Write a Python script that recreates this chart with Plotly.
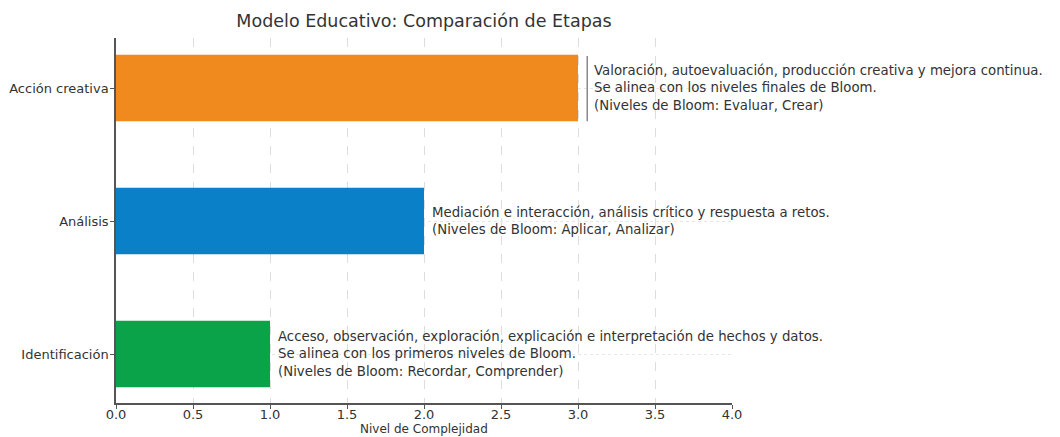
import plotly.graph_objects as go

categories = ["Identificación", "Análisis", "Acción creativa"]
values = [1, 2, 3]
colors = ["#0BA34A", "#0A80C8", "#F08A1E"]
descriptions = [
    "Acceso, observación, exploración, explicación e interpretación de hechos y datos.<br>Se alinea con los primeros niveles de Bloom.<br>(Niveles de Bloom: Recordar, Comprender)",
    "Mediación e interacción, análisis crítico y respuesta a retos.<br>(Niveles de Bloom: Aplicar, Analizar)",
    "Valoración, autoevaluación, producción creativa y mejora continua.<br>Se alinea con los niveles finales de Bloom.<br>(Niveles de Bloom: Evaluar, Crear)",
]
x_ticks = [0.0, 0.5, 1.0, 1.5, 2.0, 2.5, 3.0, 3.5, 4.0]
title = "Modelo Educativo: Comparación de Etapas"
x_title = "Nivel de Complejidad"

FONT = "DejaVu Sans"
TXT = "#333333"

fig = go.Figure()
fig.add_trace(go.Bar(
    y=categories, x=values, orientation="h",
    marker=dict(color=colors, line=dict(width=0)),
    width=0.5, showlegend=False, hoverinfo="skip",
))

shifts = [6, 6, 14]
for cat, v, d, s in zip(categories, values, descriptions, shifts):
    fig.add_annotation(
        x=v, y=cat, xref="x", yref="y", text=d, showarrow=False,
        xanchor="left", yanchor="middle", align="left", xshift=s,
        font=dict(family=FONT, size=13.3, color=TXT),
    )

# x-axis title placed just below the tick labels
fig.add_annotation(
    x=0.5, y=0, xref="paper", yref="paper", text=x_title, showarrow=False,
    xanchor="center", yanchor="bottom", yshift=-35,
    font=dict(family=FONT, size=12, color=TXT),
)

# thin separator line next to the top annotation
fig.add_shape(type="line", xref="x", yref="y",
              x0=values[2] + 0.06, x1=values[2] + 0.06,
              y0=2 - 0.25, y1=2 + 0.24,
              line=dict(color="#888888", width=1.5))

# page body adds an 8px offset; margins compensate
L, T = 108, 30
PW, PH = 616, 365
W, H = 1060, 437

fig.update_layout(
    width=W, height=H,
    margin=dict(l=L, r=W - L - PW, t=T, b=H - T - PH, autoexpand=False),
    paper_bgcolor="white", plot_bgcolor="white",
    font=dict(family=FONT, color=TXT),
    title=dict(text=title, x=(L + PW / 2) / W, xanchor="center",
               y=1 - 13 / H, yanchor="middle", automargin=False,
               font=dict(family=FONT, size=17.5, color=TXT)),
    xaxis=dict(
        range=[0, 4], tickvals=x_ticks,
        ticktext=[f"{t:.1f}" for t in x_ticks],
        showgrid=True, gridcolor="#DDDDDD", griddash="dash", gridwidth=1,
        showline=True, linecolor="#555555", linewidth=1.5,
        ticks="outside", ticklen=4, tickcolor="#555555",
        ticklabelstandoff=-5,
        tickfont=dict(family=FONT, size=13, color=TXT),
        zeroline=False, automargin=False,
    ),
    yaxis=dict(
        categoryorder="array", categoryarray=categories,
        range=[-0.368, 2.376],
        showgrid=True, gridcolor="#E6E6E6", griddash="dot", gridwidth=1,
        showline=True, linecolor="#555555", linewidth=1.5,
        ticks="outside", ticklen=4, tickcolor="#555555",
        ticklabelstandoff=-1,
        tickfont=dict(family=FONT, size=13, color=TXT),
        zeroline=False, automargin=False,
    ),
    bargap=0.5,
)

fig.write_html("out.html")
